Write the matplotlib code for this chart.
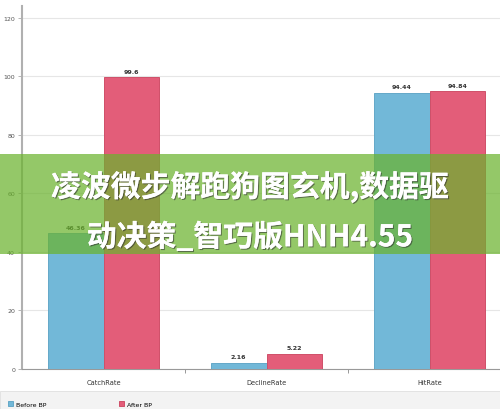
import numpy as np
import matplotlib.pyplot as plt
import matplotlib.patheffects as pe
from matplotlib.patches import Rectangle

# chart data
categories = ["CatchRate", "DeclineRate", "HitRate"]
before_bp = [46.36, 2.16, 94.44]
after_bp = [99.6, 5.22, 94.84]
series_names = ["Before BP", "After BP"]
y_ticks = [0, 20, 40, 60, 80, 100, 120]
banner_lines = ["凌波微步解跑狗图玄机,数据驱", "动决策_智巧版HNH4.55"]

blue = "#72b8d8"
red = "#e35d79"

fig = plt.figure(figsize=(5, 4.1), dpi=100)
fig.patch.set_facecolor("white")

# plot area: x 22..500 px, y 7..370 px
ax = fig.add_axes([22 / 500, 40 / 410, 478 / 500, 363 / 410])
x = np.arange(len(categories))
w = 0.343
b1 = ax.bar(x - w / 2, before_bp, w, color=blue, edgecolor="#64a8c8", linewidth=0.7,
            label=series_names[0], zorder=3)
b2 = ax.bar(x + w / 2, after_bp, w, color=red, edgecolor="#cf5069", linewidth=0.7,
            label=series_names[1], zorder=3)

for bars, vals in [(b1, before_bp), (b2, after_bp)]:
    for r, v in zip(bars, vals):
        ax.annotate(f"{v:g}", (r.get_x() + r.get_width() / 2, v), xytext=(0, 2.5),
                    textcoords="offset points", ha="center", va="bottom",
                    fontsize=4.5, color="#333333", fontweight="bold",
                    bbox=dict(boxstyle="square,pad=0.3", fc="white", ec="none", alpha=0.9),
                    zorder=4)

ax.set_xlim(-0.5, -0.5 + 478 / 163)
ax.set_ylim(0, 124)
ax.set_yticks(y_ticks)
ax.set_yticklabels([str(t) for t in y_ticks], fontsize=4.5, color="#555555")
ax.set_xticks([0.5, 1.5])
ax.set_xticklabels([])
ax.tick_params(axis="y", length=3, width=0.6, color="#aaaaaa", pad=2)
ax.tick_params(axis="x", length=3, width=0.6, color="#888888")
for i, c in enumerate(categories):
    ax.text(i, -3.5, c, ha="center", va="top", fontsize=4.8, color="#333333")
ax.grid(axis="y", color="#e6e6e6", linewidth=0.8, zorder=0)
for s in ["top", "right"]:
    ax.spines[s].set_visible(False)
ax.spines["left"].set_color("#b0b0b0")
ax.spines["left"].set_linewidth(1.5)
ax.spines["bottom"].set_color("#999999")
ax.spines["bottom"].set_linewidth(0.8)

# legend strip at the bottom
fig.patches.append(Rectangle((0, 0), 1, 18 / 410, transform=fig.transFigure,
                             fc="#f3f3f3", ec="#e0e0e0", lw=0.6, zorder=0))
fig.legend(handles=[b1, b2], loc="lower left", bbox_to_anchor=(0.004, -0.008), ncol=2,
           fontsize=4.5, frameon=False, handlelength=0.9, handleheight=0.9,
           handletextpad=0.5, columnspacing=11.5)

# green banner over the chart
fig.patches.append(Rectangle((0, 155 / 410), 1, 100 / 410, transform=fig.transFigure,
                             fc=(0.42, 0.70, 0.18), alpha=0.72, ec="none", zorder=5))
shadow = [pe.withSimplePatchShadow(offset=(0.8, -0.8), shadow_rgbFace="#333333", alpha=0.6),
          pe.Normal()]
for k, line in enumerate(banner_lines):
    fig.text(0.5, (410 - 188 - 50 * k) / 410, line, ha="center", va="center",
             fontsize=21.5, fontweight="heavy", color="white",
             family=["Noto Sans CJK SC", "DejaVu Sans"], path_effects=shadow, zorder=6)

fig.savefig("out.png", dpi=100)
